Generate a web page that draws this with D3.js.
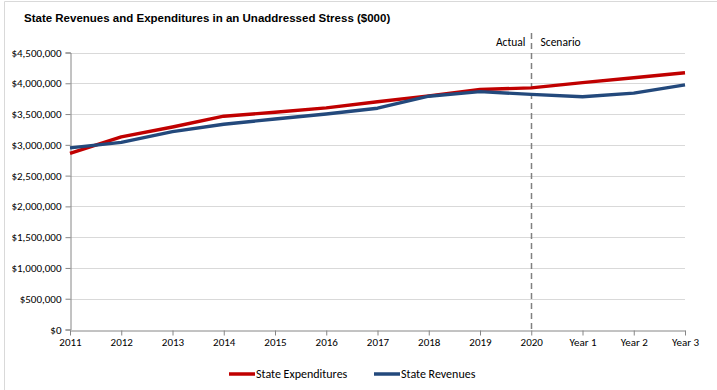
<!DOCTYPE html>
<html>
<head>
<meta charset="utf-8">
<script src="https://cdn.jsdelivr.net/npm/d3@7"></script>
<style>
  html, body { margin: 0; padding: 0; background: #fff; }
  svg { display: block; }
</style>
</head>
<body>
<svg id="chart" width="717" height="390"></svg>
<script>
// Categories along the x axis
const categories = ["2011", "2012", "2013", "2014", "2015", "2016", "2017", "2018", "2019", "2020", "Year 1", "Year 2", "Year 3"];

// Series values ($000)
const expenditures = [2860000, 3130000, 3290000, 3465000, 3530000, 3600000, 3700000, 3795000, 3900000, 3925000, 4010000, 4090000, 4170000];
const revenues     = [2950000, 3040000, 3215000, 3335000, 3420000, 3500000, 3595000, 3790000, 3865000, 3820000, 3780000, 3840000, 3975000];

// Y tick values
const yTicks = [0, 500000, 1000000, 1500000, 2000000, 2500000, 3000000, 3500000, 4000000, 4500000];

const series = [
  { name: "State Expenditures", values: expenditures, color: "#c00000" },
  { name: "State Revenues", values: revenues, color: "#23497c" }
];

const svg = d3.select("#chart");
const W = 717, H = 390;
const m = { left: 70, right: 32, top: 52.5, bottom: 60.5 };

// Frame around the chart area
svg.append("path")
  .attr("d", `M4.5,${H} V1.5 H${W}`)
  .attr("fill", "none")
  .attr("stroke", "#d9d9d9")
  .attr("stroke-width", 1);

// Title
svg.append("text")
  .attr("x", 24)
  .attr("y", 22)
  .attr("font-family", "Liberation Sans, Arial, sans-serif")
  .attr("font-weight", "bold")
  .attr("font-size", 11.5)
  .attr("fill", "#000")
  .text("State Revenues and Expenditures in an Unaddressed Stress ($000)");

const x = d3.scalePoint().domain(categories).range([m.left, W - m.right]);
const y = d3.scaleLinear().domain([0, 4500000]).range([H - m.bottom, m.top]);

const labelFont = "Carlito, Lato, 'Open Sans', sans-serif";
const fmt = v => "$" + d3.format(",")(v);

// Horizontal gridlines
svg.append("g")
  .selectAll("line")
  .data(yTicks.filter(d => d > 0))
  .join("line")
  .attr("x1", m.left)
  .attr("x2", W - m.right)
  .attr("y1", d => Math.round(y(d)) + 0.5)
  .attr("y2", d => Math.round(y(d)) + 0.5)
  .attr("stroke", "#d9d9d9")
  .attr("stroke-width", 1);

// Y axis
const yAxis = svg.append("g")
  .attr("transform", `translate(${m.left + 0.5},0)`)
  .call(d3.axisLeft(y).tickValues(yTicks).tickFormat(fmt).tickSize(5).tickPadding(4));
yAxis.select(".domain").attr("stroke", "#868686");
yAxis.selectAll(".tick line").attr("stroke", "#868686");
yAxis.selectAll(".tick text")
  .attr("font-family", labelFont)
  .attr("font-size", 11)
  .attr("fill", "#000");

// X axis
const xAxis = svg.append("g")
  .attr("transform", `translate(0,${Math.round(y(0)) + 0.5})`)
  .call(d3.axisBottom(x).tickSize(5).tickPadding(3).tickSizeOuter(0));
xAxis.select(".domain").attr("stroke", "#868686");
xAxis.selectAll(".tick line").attr("stroke", "#868686");
xAxis.selectAll(".tick text")
  .attr("font-family", labelFont)
  .attr("font-size", 11)
  .attr("fill", "#000");

// Divider between actual and scenario years
const xd = Math.round(x("2020")) + 0.5;
svg.append("line")
  .attr("x1", xd).attr("x2", xd)
  .attr("y1", 33).attr("y2", y(0))
  .attr("stroke", "#808080")
  .attr("stroke-width", 1.5)
  .attr("stroke-dasharray", "6,4");

svg.append("text")
  .attr("x", xd - 6).attr("y", 46)
  .attr("text-anchor", "end")
  .attr("font-family", labelFont)
  .attr("font-size", 11.5)
  .text("Actual");
svg.append("text")
  .attr("x", xd + 9).attr("y", 46)
  .attr("font-family", labelFont)
  .attr("font-size", 11.5)
  .text("Scenario");

// Series lines
const line = d3.line()
  .x((d, i) => x(categories[i]))
  .y(d => y(d));

svg.append("g")
  .selectAll("path")
  .data(series)
  .join("path")
  .attr("d", d => line(d.values))
  .attr("fill", "none")
  .attr("stroke", d => d.color)
  .attr("stroke-width", 3.4)
  .attr("stroke-linejoin", "round");

// Legend
const legendX = [229, 374];
const legend = svg.append("g")
  .selectAll("g")
  .data(series)
  .join("g")
  .attr("transform", (d, i) => `translate(${legendX[i]},374)`);
legend.append("line")
  .attr("x1", 0).attr("x2", 26)
  .attr("stroke", d => d.color)
  .attr("stroke-width", 3.5);
legend.append("text")
  .attr("x", 27).attr("y", 4)
  .attr("font-family", labelFont)
  .attr("font-size", 12)
  .text(d => d.name);
</script>
</body>
</html>
